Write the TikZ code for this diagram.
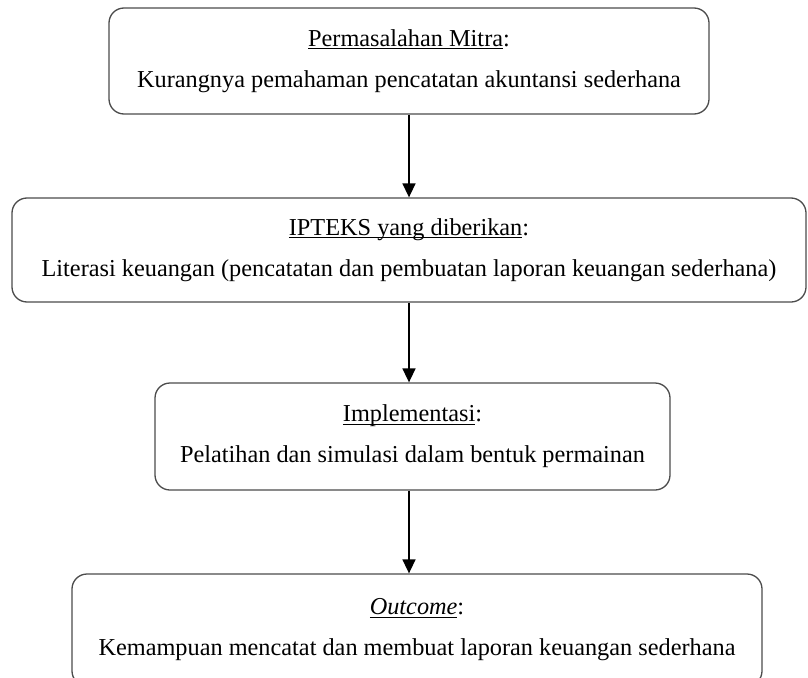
\documentclass[tikz,border=0pt]{standalone}
\usepackage{fontspec}
\setmainfont{Liberation Serif}
\usetikzlibrary{arrows.meta}
\newcommand{\undl}[1]{\setbox0\hbox{#1}\rlap{\rule[-0.13em]{\wd0}{0.05em}}\box0}
\tikzstyle{block} = [rectangle, draw=black!70, line width=1.3pt, fill=white,
                 rounded corners=15pt, align=center, inner sep=0pt,
                 font=\fontsize{24.3}{41}\selectfont]
\tikzstyle{link} = [draw, line width=1.6pt, -{Triangle[length=14pt, width=13pt]}]

\begin{document}
\begin{tikzpicture}[x=1pt, y=-1pt]

\useasboundingbox (0,0) rectangle (808,677);

\node [block, minimum width=600pt, minimum height=106pt] at (409,61) (mitra)
	{\undl{Permasalahan Mitra}:\\Kurangnya pemahaman pencatatan akuntansi sederhana};
\node [block, minimum width=794pt, minimum height=104pt] at (409,250) (ipteks)
	{\undl{IPTEKS yang diberikan}:\\Literasi keuangan (pencatatan dan pembuatan laporan keuangan sederhana)};
\node [block, minimum width=515pt, minimum height=107pt] at (412.5,436.5) (impl)
	{\undl{Implementasi}:\\Pelatihan dan simulasi dalam bentuk permainan};
\node [block, minimum width=690pt, minimum height=112pt] at (417,630) (outcome)
	{\undl{\textit{Outcome}}:\\Kemampuan mencatat dan membuat laporan keuangan sederhana};

\path [link] (mitra.south) -- (ipteks.north);
\path [link] (ipteks.south) -- (impl.north -| ipteks.south);
\path [link] (impl.south -| ipteks.south) -- (outcome.north -| ipteks.south);

\end{tikzpicture}
\end{document}
